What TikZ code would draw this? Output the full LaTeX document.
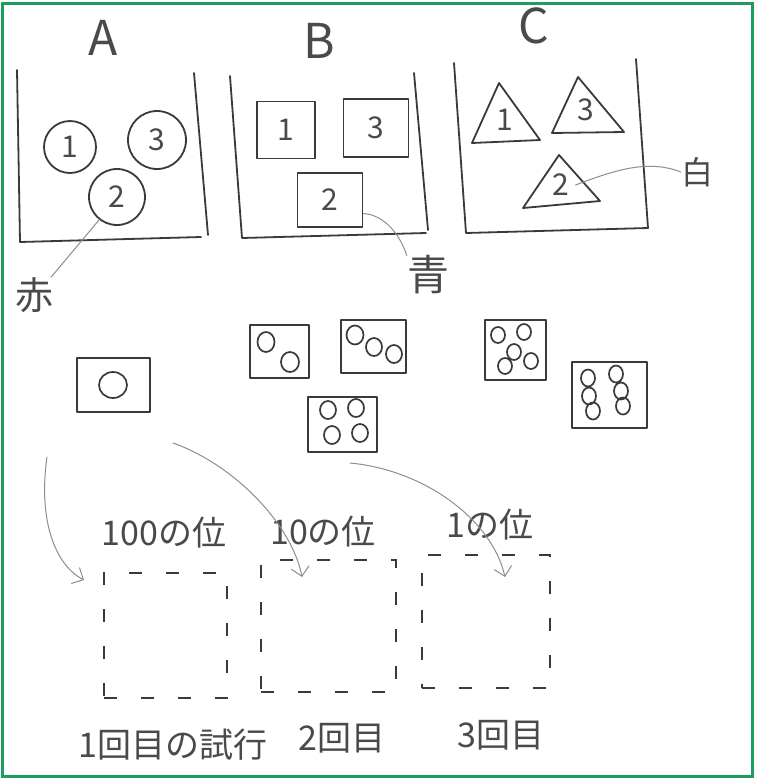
\documentclass[tikz,border=0pt]{standalone}
\usepackage{fontspec}
\setmainfont{Noto Sans CJK JP}
\usetikzlibrary{arrows.meta}
\definecolor{pen}{HTML}{3A3A3A}
\definecolor{textpen}{HTML}{4A4A4A}
\definecolor{faintpen}{HTML}{8E8E8E}
\definecolor{frame}{HTML}{1E9E5E}
\begin{document}
\begin{tikzpicture}[x=1pt,y=-1pt,
  pencil/.style={draw=pen, line width=1.8pt, line cap=round, line join=round},
  faint/.style={draw=faintpen, line width=1pt, line cap=round},
  lbl/.style={text=textpen, inner sep=0pt, font=\fontsize{34}{34}\selectfont},
  big/.style={text=textpen, inner sep=0pt, font=\fontsize{48}{48}\selectfont},
  num/.style={text=textpen, font=\fontsize{30}{30}\selectfont},
  ball/.style={pencil, circle, inner sep=0pt, num},
  card/.style={pencil, rectangle, inner sep=0pt, num},
  die/.style={pencil, rectangle, inner sep=0pt},
  pip/.style={draw=pen, line width=1.7pt},
  slot/.style={draw=pen, line width=1.8pt, dash pattern=on 13pt off 24pt, rectangle, inner sep=0pt},
  tip/.style={-{Straight Barb[length=9pt,width=18pt,line width=1pt]}}
]
\useasboundingbox (0,0) rectangle (757,780);
\fill[white] (0,0) rectangle (757,780);
\draw[draw=frame, line width=3pt] (2,3) rectangle (752,776);

% titles
\node[big] (tA) at (103,38) {A};
\node[big] (tB) at (319,41) {B};
\node[big] (tC) at (534,26) {C};

% containers
\draw[pencil] (17,70) -- (20,242) -- (201,237);
\draw[pencil] (194,73) -- (208,235);
\draw[pencil] (230,76) -- (242,238) -- (426,233);
\draw[pencil] (414,73) -- (428,230);
\draw[pencil] (454,63) -- (466,233) -- (648,228);
\draw[pencil] (636,59) -- (648,228);

% A : balls
\node[ball, minimum size=52pt] (a1) at (70,147) {1};
\node[ball, minimum size=58pt] (a3) at (157,140) {3};
\node[ball, minimum size=56pt] (a2) at (117,197) {2};
\node[lbl, font=\fontsize{38}{38}\selectfont] (aka) at (35,295) {赤};
\draw[faint] (a2.232) -- ([xshift=16pt]aka.north);

% B : cards
\node[card, minimum width=58pt, minimum height=57pt] (b1) at (286,130) {1};
\node[card, minimum width=65pt, minimum height=58pt] (b3) at (376,128) {3};
\node[card, minimum width=65pt, minimum height=54pt] (b2) at (330,200) {2};
\node[lbl, font=\fontsize{42}{42}\selectfont] (ao) at (428,275) {青};
\draw[faint] (b2.-22) .. controls (385,215) and (400,235) .. (ao.north west);

% C : triangles
\draw[pencil] (499,83) -- (540,140) -- (472,143) -- cycle;
\draw[pencil] (578,77) -- (624,132) -- (552,133) -- cycle;
\draw[pencil] (559,155) -- (600,201) -- (523,208) -- cycle;
\node[num, inner sep=0pt] (c1) at (505,120) {1};
\node[num, inner sep=0pt] (c3) at (586,110) {3};
\node[num, inner sep=0pt] (c2) at (561,185) {2};
\node[lbl, font=\fontsize{32}{32}\selectfont] (shiro) at (697,172) {白};
\draw[faint] ([xshift=6pt]c2.east) .. controls (620,168) and (650,160) .. (shiro.west);

% dice
\node[die, minimum width=73pt, minimum height=54pt] (d1) at (113.5,385) {};
\draw[pip] (113,385) ellipse (14pt and 13pt);

\node[die, minimum width=59pt, minimum height=53pt] (d2) at (279.5,351.5) {};
\draw[pip] (266,342) ellipse (8.5pt and 10pt) (290,362) ellipse (9pt and 10pt);

\node[die, minimum width=65pt, minimum height=53pt] (d3) at (373.5,346.5) {};
\draw[pip] (355,335) ellipse (8.5pt and 9.5pt) (374,347) ellipse (8pt and 9pt) (394,354) ellipse (8pt and 9pt);

\node[die, minimum width=69pt, minimum height=55pt] (d4) at (342.5,424.5) {};
\draw[pip] (328,410) ellipse (8pt and 9pt) (356,408) ellipse (8pt and 9pt)
           (332,435) ellipse (8pt and 9pt) (360,433) ellipse (8pt and 9pt);

\node[die, minimum width=61pt, minimum height=60pt] (d5) at (515.5,350) {};
\draw[pip] (498,335) ellipse (7pt and 8pt) (524,332) ellipse (7pt and 8pt) (514,352) ellipse (7pt and 8pt)
           (505,366) ellipse (7pt and 8pt) (531,361) ellipse (7pt and 8pt);

\node[die, minimum width=75pt, minimum height=66pt] (d6) at (609.5,395) {};
\draw[pip] (588,378) ellipse (7pt and 8.5pt) (616,374) ellipse (7pt and 8.5pt)
           (589,396) ellipse (7pt and 8.5pt) (621,391) ellipse (7pt and 8.5pt)
           (593,411) ellipse (7pt and 8.5pt) (623,406) ellipse (7pt and 8.5pt);

% place-value slots
\node[slot, minimum width=123pt, minimum height=125pt] (p1) at (165.5,635.5) {};
\node[slot, minimum width=135pt, minimum height=132pt] (p2) at (328.5,626) {};
\node[slot, minimum width=128pt, minimum height=133pt] (p3) at (486,621.5) {};

\node[lbl] (h1) at (164,533) {100の位};
\node[lbl] (h2) at (323,532) {10の位};
\node[lbl] (h3) at (490,525) {1の位};

\node[lbl] (t1) at (173,745) {1回目の試行};
\node[lbl] (t2) at (342,738) {2回目};
\node[lbl] (t3) at (501,735) {3回目};

% arrows
\coordinate (s1) at (47,457);
\coordinate (e1) at (84,580);
\coordinate (s2) at (173,443);
\coordinate (e2) at (302,577);
\coordinate (s3) at (350,463);
\coordinate (e3) at (505,577);
\draw[faint, tip] (s1) .. controls (38,520) and (55,565) .. (e1);
\draw[faint, tip] (s2) .. controls (235,465) and (292,525) .. (e2);
\draw[faint, tip] (s3) .. controls (425,470) and (492,520) .. (e3);
\end{tikzpicture}
\end{document}
